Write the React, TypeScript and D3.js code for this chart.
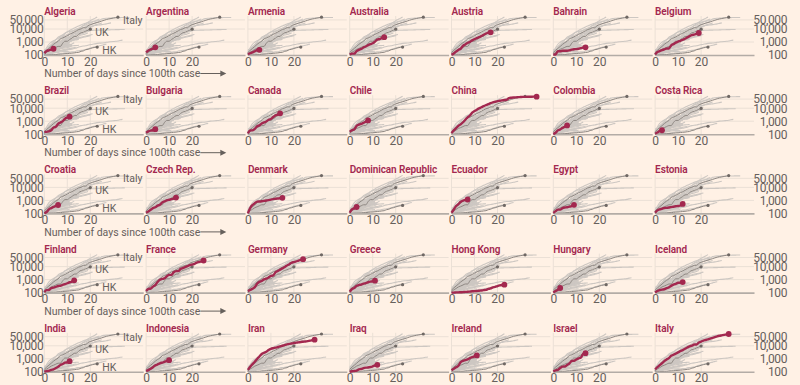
import React, { useEffect, useRef } from "react";
import * as d3 from "d3";

// cumulative confirmed cases, one value per day counted from the day the country passed 100 cases
const algeria = [139, 201, 230, 264, 302];
const argentina = [158, 225, 266, 301, 387];
const armenia = [115, 136, 160, 194, 235, 249];
const australia = [107, 128, 128, 200, 250, 297, 377, 452, 568, 681, 791, 1071, 1549, 1682, 2044, 2364];
const austria = [104, 131, 182, 246, 302, 504, 655, 860, 1018, 1332, 1646, 2013, 2388, 2814, 3582, 4474, 5283, 5588];
const bahrain = [109, 110, 195, 195, 210, 214, 214, 228, 256, 278, 285, 305, 334, 377, 392];
const belgium = [109, 169, 200, 239, 267, 314, 314, 559, 689, 886, 1058, 1243, 1486, 1795, 2257, 2815, 3401, 3743, 4269, 4937];
const brazil = [151, 151, 162, 200, 321, 372, 621, 793, 1021, 1546, 1924, 2247];
const bulgaria = [127, 163, 187, 201, 242];
const canada = [117, 193, 198, 252, 415, 478, 657, 800, 943, 1277, 1469, 2088, 2790, 3251, 4042];
const chile = [155, 201, 238, 434, 537, 632, 746, 922, 1142];
const china = [121, 198, 291, 440, 571, 830, 1287, 1975, 2744, 4515, 5974, 7711, 9692, 11791, 14380, 17205, 20438, 24324, 28018, 31161, 34546, 37198, 40171, 42638, 44653, 59804, 63851, 66492, 68500, 70548, 72436, 74185, 74576, 75465, 76288, 76936, 77150, 77658];
const colombia = [102, 128, 196, 231, 306, 378, 470];
const costaRica = [113, 134, 177, 201];
const croatia = [105, 128, 206, 254, 315, 382, 442];
const czechRep = [116, 141, 189, 253, 298, 396, 464, 694, 833, 995, 1120, 1236, 1394, 1654];
const denmark = [100, 262, 442, 615, 801, 827, 864, 914, 977, 1057, 1151, 1255, 1326, 1395, 1450, 1591];
const dominicanRep = [112, 202, 245, 312];
const ecuador = [111, 199, 367, 506, 789, 981, 1082, 1173];
const egypt = [110, 150, 196, 196, 256, 285, 294, 327, 366, 456];
const estonia = [115, 171, 205, 225, 258, 267, 283, 306, 326, 352, 369, 404, 538];
const finland = [109, 156, 155, 225, 244, 277, 321, 336, 400, 450, 523, 626, 700, 880];
const france = [130, 191, 204, 288, 380, 656, 959, 1136, 1219, 1794, 2293, 2293, 3681, 4496, 4532, 6683, 7715, 9124, 10970, 12758, 14463, 16243, 20123, 22622, 25600, 29551];
const germany = [130, 159, 196, 262, 482, 670, 799, 1040, 1176, 1457, 1908, 2078, 3675, 4585, 5795, 7272, 9257, 12327, 15320, 19848, 22213, 24873, 29056, 32986, 37323];
const greece = [117, 190, 228, 331, 387, 418, 495, 530, 624, 695, 743, 821];
const hongKong = [100, 100, 104, 105, 107, 108, 114, 115, 120, 126, 129, 134, 140, 145, 155, 162, 192, 208, 256, 273, 317, 356, 386, 410];
const hungary = [103, 131, 167, 226];
const iceland = [103, 134, 156, 171, 180, 220, 250, 330, 409, 473, 568, 588, 648];
const india = [102, 113, 119, 142, 156, 194, 244, 330, 396, 499, 536, 657];
const indonesia = [117, 134, 172, 227, 311, 369, 450, 514, 579, 686, 790];
const iran = [139, 245, 388, 593, 978, 1501, 2336, 2922, 3513, 4747, 5823, 6566, 7161, 8042, 9000, 10075, 11364, 12729, 13938, 14991, 16169, 17361, 18407, 19644, 20610, 21638, 23049, 24811, 27017, 29406];
const iraq = [101, 110, 116, 124, 154, 164, 192, 208, 214, 233, 266, 316, 346];
const ireland = [129, 169, 223, 292, 557, 683, 785, 906, 1125, 1329, 1564, 1819];
const israel = [109, 131, 143, 193, 251, 255, 337, 433, 677, 705, 883, 1071, 1238, 2369, 2693];
const italy = [155, 229, 322, 453, 655, 888, 1128, 1694, 2036, 2502, 3089, 3858, 4636, 5883, 7375, 9172, 10149, 12462, 12462, 17660, 21157, 24747, 27980, 31506, 35713, 41035, 47021, 53578, 59138, 63927, 69176, 74386, 80589];

// countries that only appear as grey lines
const spain = [120, 165, 222, 259, 400, 500, 673, 1073, 1695, 2277, 2277, 5232, 6391, 7798, 9942, 11748, 13910, 17963, 20410, 25374, 28768, 35136, 39885, 49515, 57786];
const us = [118, 149, 217, 262, 402, 518, 583, 959, 1281, 1663, 2179, 2727, 3499, 4632, 6421, 7786, 13680, 19101, 25493, 33276, 43847, 53740, 65778, 83836];
const uk = [116, 164, 207, 274, 322, 384, 459, 459, 802, 1144, 1145, 1551, 1960, 2642, 2716, 4014, 5067, 5745, 6726, 8164, 9640];
const southKorea = [104, 204, 433, 602, 833, 977, 1261, 1766, 2337, 3150, 3736, 4335, 5186, 5621, 6088, 6593, 7041, 7314, 7478, 7513, 7755, 7869, 7979, 8086, 8162, 8236, 8320, 8413, 8565, 8652, 8799, 8897, 8961, 9037, 9137, 9241];
const japan = [105, 105, 144, 144, 157, 164, 186, 210, 230, 239, 254, 268, 284, 317, 349, 408, 455, 488, 514, 568, 620, 675, 716, 780, 814, 829, 873, 950, 1007, 1046, 1089, 1128, 1193, 1307, 1387];
const singapore = [102, 102, 106, 108, 110, 110, 117, 130, 138, 150, 150, 160, 178, 178, 200, 212, 226, 243, 266, 313, 345, 385, 432, 455, 509, 558, 631, 683];
const switzerland = [114, 214, 268, 337, 374, 491, 652, 652, 1139, 1359, 2200, 2200, 2700, 3028, 4075, 5294, 6575, 7474, 8795, 9877, 10897, 11811];
const netherlands = [128, 188, 265, 321, 382, 503, 503, 804, 959, 1135, 1413, 1705, 2051, 2460, 2994, 3631, 4204, 4749, 5560, 6412, 7431];
const norway = [108, 147, 176, 205, 400, 598, 702, 996, 1090, 1221, 1333, 1463, 1550, 1746, 1914, 2118, 2385, 2621, 2863, 3084, 3369, 3755];
const sweden = [161, 203, 248, 355, 500, 599, 814, 961, 1022, 1103, 1190, 1279, 1439, 1639, 1763, 1934, 2046, 2286, 2526, 2840, 3069];
const portugal = [112, 169, 245, 331, 448, 448, 785, 1020, 1280, 1600, 2060, 2362, 2995, 3544];
const malaysia = [129, 149, 149, 197, 238, 428, 566, 673, 790, 900, 1030, 1183, 1306, 1518, 1624, 1796];
const turkey = [191, 359, 670, 947, 1236, 1529, 1872, 2433, 3629];
const poland = [101, 119, 177, 238, 251, 355, 425, 536, 634, 749, 901, 1051, 1221];
const luxembourg = [140, 203, 335, 484, 670, 798, 875, 1099, 1333, 1453];
const qatar = [262, 262, 320, 337, 401, 439, 452, 452, 460, 470, 481, 494, 501, 526, 537, 549];
const saudiArabia = [103, 103, 133, 171, 171, 274, 344, 392, 511, 562, 767, 900];
const thailand = [114, 147, 177, 212, 272, 322, 411, 599, 721, 827, 934, 1045];
const philippines = [140, 142, 187, 202, 217, 230, 307, 380, 462, 552, 636, 707];
const pakistan = [136, 236, 299, 454, 501, 730, 776, 875, 972, 1063, 1201];
const slovenia = [141, 181, 219, 253, 275, 275, 286, 341, 383, 414, 442, 480, 528];
const romania = [131, 158, 184, 260, 277, 308, 367, 433, 576, 794, 906];
const russia = [114, 147, 199, 253, 306, 367, 438, 495, 658];
const peru = [117, 145, 234, 234, 318, 363, 395, 416, 480];
const mexico = [118, 164, 203, 251, 316, 367, 405, 475];
const southAfrica = [116, 150, 202, 240, 274, 402, 554, 709];
const panama = [137, 200, 200, 313, 345, 345, 443];
const kuwait = [104, 112, 123, 130, 142, 148, 159, 176, 188, 189, 191, 195];
const lebanon = [120, 133, 157, 163, 187, 248, 267, 318, 333];
const serbia = [103, 135, 171, 249, 249, 303, 384];
const uae = [113, 140, 140, 153, 153, 198, 248, 333];

const panelNames = [
  "Algeria", "Argentina", "Armenia", "Australia", "Austria", "Bahrain", "Belgium",
  "Brazil", "Bulgaria", "Canada", "Chile", "China", "Colombia", "Costa Rica",
  "Croatia", "Czech Rep.", "Denmark", "Dominican Republic", "Ecuador", "Egypt", "Estonia",
  "Finland", "France", "Germany", "Greece", "Hong Kong", "Hungary", "Iceland",
  "India", "Indonesia", "Iran", "Iraq", "Ireland", "Israel", "Italy",
];
const panelSeries = [
  algeria, argentina, armenia, australia, austria, bahrain, belgium,
  brazil, bulgaria, canada, chile, china, colombia, costaRica,
  croatia, czechRep, denmark, dominicanRep, ecuador, egypt, estonia,
  finland, france, germany, greece, hongKong, hungary, iceland,
  india, indonesia, iran, iraq, ireland, israel, italy,
];
const backgroundSeries = [
  spain, us, southKorea, japan, singapore, switzerland, netherlands, norway, sweden, portugal,
  malaysia, turkey, poland, luxembourg, qatar, saudiArabia, thailand, philippines, pakistan,
  slovenia, romania, russia, peru, mexico, southAfrica, panama, kuwait, lebanon, serbia, uae,
];
const markedNames = ["Italy", "UK", "HK"];
const markedSeries = [italy, uk, hongKong];

const yTicks = [100, 1000, 10000, 50000];
const xTicks = [0, 10, 20];
const gridValues = [1000, 10000, 50000];

const W = 800;
const H = 385;
const BG = "#fff1e5";
const CLARET = "#a3284f";
const TEXT = "#66605c";
const FONT = "Roboto, 'Liberation Sans', sans-serif";

const drawChart = (node: SVGSVGElement) => {
  const svg = d3.select(node);
  svg.selectAll("*").remove();
  svg.append("rect").attr("width", W).attr("height", H).attr("fill", BG);

  const col0 = 44.3, colStep = 101.8;
  const row0 = 55, rowStep = 79.2;
  const dayPx = 2.3, decadePx = 13;
  const greySeries = panelSeries.filter((s) => markedSeries.indexOf(s) < 0).concat(backgroundSeries);

  panelNames.forEach((name, i) => {
    const col = i % 7;
    const row = Math.floor(i / 7);
    const ox = col0 + col * colStep;
    const by = row0 + row * rowStep;

    const x = d3.scaleLinear().domain([0, 43]).range([ox, ox + 43 * dayPx]);
    const y = d3.scaleLog().domain([100, 100000]).range([by, by - 3 * decadePx]);
    const line = d3
      .line<number>()
      .x((d, j) => x(j))
      .y((d) => y(d))
      .curve(d3.curveMonotoneX);

    const g = svg.append("g");

    // faint grid
    g.selectAll("line.h")
      .data(gridValues)
      .join("line")
      .attr("x1", x(0))
      .attr("x2", x(43))
      .attr("y1", (d) => y(d))
      .attr("y2", (d) => y(d))
      .attr("stroke", "#ebe0d6")
      .attr("stroke-width", 1);
    g.selectAll("line.v")
      .data([0, 10, 20])
      .join("line")
      .attr("x1", (d) => x(d))
      .attr("x2", (d) => x(d))
      .attr("y1", y(100))
      .attr("y2", y(100000))
      .attr("stroke", "#ebe0d6")
      .attr("stroke-width", 1);

    // every country in light grey
    g.selectAll("path.grey")
      .data(greySeries)
      .join("path")
      .attr("d", (d) => line(d))
      .attr("fill", "none")
      .attr("stroke", "#cdc7c2")
      .attr("stroke-width", 1.1);

    // Italy, UK, Hong Kong as reference lines
    markedSeries.forEach((s) => {
      g.append("path")
        .attr("d", line(s))
        .attr("fill", "none")
        .attr("stroke", "#8e8782")
        .attr("stroke-width", 1);
      g.append("circle")
        .attr("cx", x(s.length - 1))
        .attr("cy", y(s[s.length - 1]))
        .attr("r", 1.6)
        .attr("fill", "#6f6864");
    });

    // x axis
    const ax = g
      .append("g")
      .attr("transform", `translate(0,${by})`)
      .call(d3.axisBottom(x).tickValues(xTicks).tickSize(0).tickPadding(2));
    ax.select(".domain").attr("stroke", "#b3aca6").attr("stroke-width", 1.6);
    ax.selectAll("text").attr("fill", TEXT).attr("font-size", 12).attr("font-family", FONT);

    // highlighted country
    const s = panelSeries[i];
    g.append("path")
      .attr("d", line(s))
      .attr("fill", "none")
      .attr("stroke", CLARET)
      .attr("stroke-width", 2.4)
      .attr("stroke-linejoin", "round");
    g.append("circle")
      .attr("cx", x(s.length - 1))
      .attr("cy", y(s[s.length - 1]))
      .attr("r", 2.9)
      .attr("fill", CLARET);

    g.append("text")
      .attr("x", ox)
      .attr("y", by - 40)
      .attr("fill", CLARET)
      .attr("font-size", 10)
      .attr("font-weight", 600)
      .attr("letter-spacing", -0.1)
      .attr("font-family", FONT)
      .text(name);

    if (col === 0) {
      const yl = g
        .append("g")
        .attr("transform", `translate(${ox - 1},0)`)
        .call(d3.axisLeft(y).tickValues(yTicks).tickFormat(d3.format(",")).tickSize(0).tickPadding(0));
      yl.select(".domain").remove();
      yl.selectAll("text").attr("fill", TEXT).attr("font-size", 12).attr("font-family", FONT).attr("letter-spacing", -0.4);

      markedSeries.forEach((m, k) => {
        g.append("text")
          .attr("x", x(m.length - 1) + 5)
          .attr("y", y(m[m.length - 1]) + 3)
          .attr("dy", "0.35em")
          .attr("fill", TEXT)
          .attr("font-size", 10.5)
          .attr("font-family", FONT)
          .text(markedNames[k]);
      });

      g.append("text")
        .attr("x", ox)
        .attr("y", by + 18.5)
        .attr("dy", "0.35em")
        .attr("fill", TEXT)
        .attr("font-size", 10.5)
        .attr("font-family", FONT)
        .text("Number of days since 100th case");
      g.append("line")
        .attr("x1", ox + 156)
        .attr("x2", ox + 178)
        .attr("y1", by + 18.5)
        .attr("y2", by + 18.5)
        .attr("stroke", TEXT)
        .attr("stroke-width", 1);
      g.append("path")
        .attr("d", `M${ox + 182},${by + 18.5} L${ox + 176},${by + 15.5} L${ox + 176},${by + 21.5} Z`)
        .attr("fill", TEXT);
    }

    if (col === 6) {
      const yr = g
        .append("g")
        .attr("transform", "translate(787,0)")
        .call(d3.axisLeft(y).tickValues(yTicks).tickFormat(d3.format(",")).tickSize(0).tickPadding(0));
      yr.select(".domain").remove();
      yr.selectAll("text").attr("fill", TEXT).attr("font-size", 12).attr("font-family", FONT).attr("letter-spacing", -0.4);
    }
  });
};

const App = () => {
  const ref = useRef<SVGSVGElement>(null);
  useEffect(() => {
    document.body.style.margin = "0";
    document.body.style.background = BG;
    if (ref.current) drawChart(ref.current);
  }, []);
  return <svg ref={ref} width={W} height={H} style={{ display: "block" }} />;
};

export default App;
